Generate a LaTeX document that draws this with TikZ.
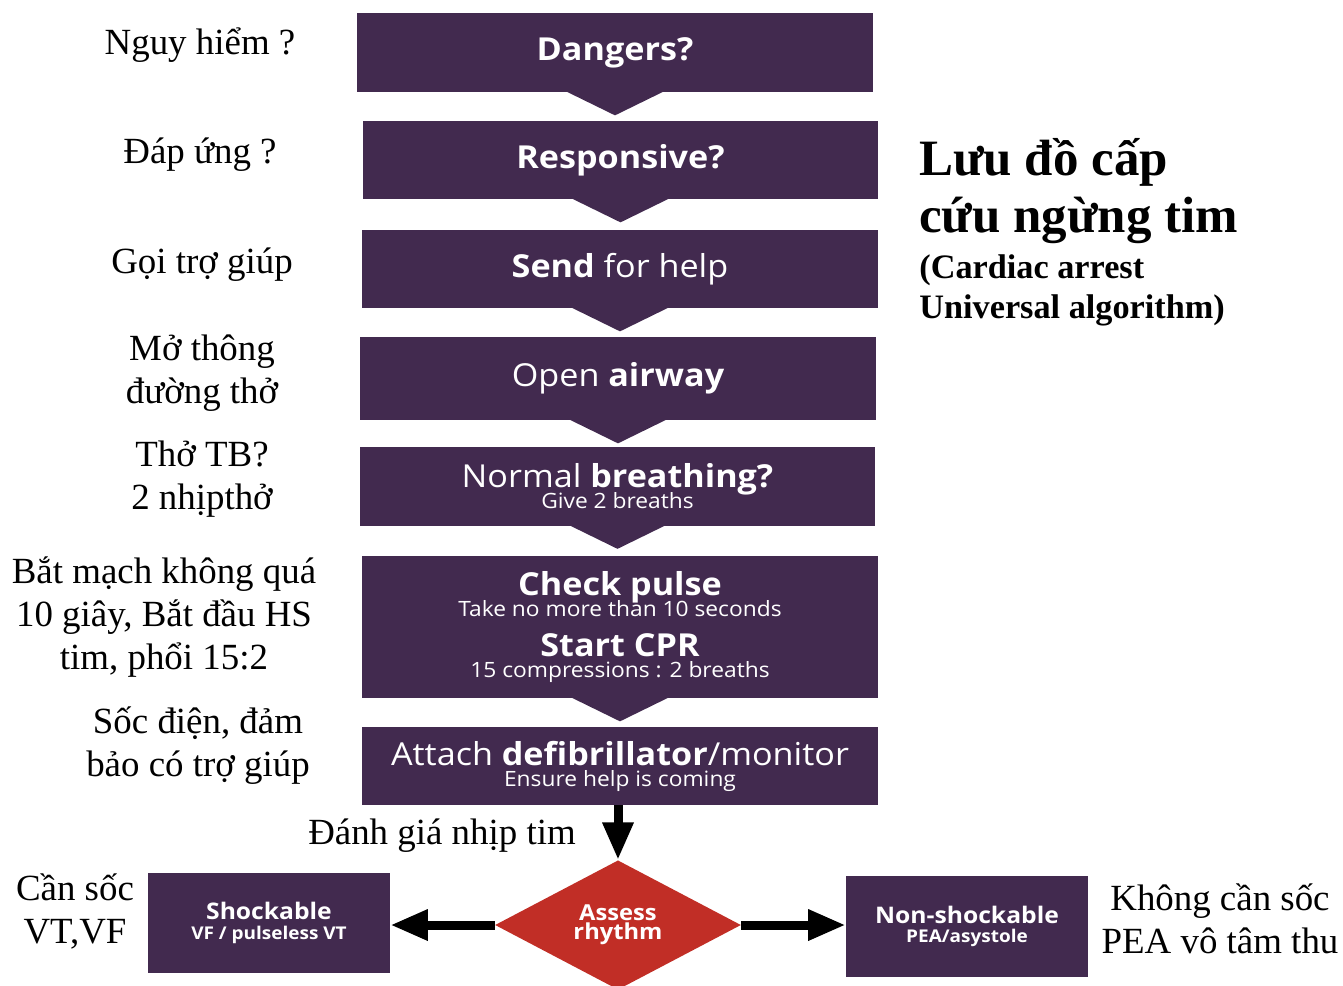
\documentclass[tikz,border=0pt]{standalone}
\usepackage{fontspec}
\setmainfont{Liberation Serif}
\newfontfamily\boxfont[FakeStretch=1.08]{Open Sans}
\usetikzlibrary{arrows.meta}
\usetikzlibrary{shapes.geometric}
\definecolor{boxpurple}{RGB}{66,42,79}
\definecolor{rhythmred}{RGB}{193,46,38}
\newcommand{\subline}{\fontsize{12}{12}\selectfont}
\tikzset{
    stepbox/.style={
        fill=boxpurple, text=white, inner sep=0pt,
        minimum width=10.32cm, minimum height=1.56cm, align=center,
        font={\boxfont\fontsize{18}{12}\selectfont\lineskiplimit=-50pt}
    },
    endbox/.style={
        fill=boxpurple, text=white, inner sep=0pt,
        minimum width=4.84cm, minimum height=2cm, align=center,
        font={\boxfont\bfseries\fontsize{13}{11}\selectfont\lineskiplimit=-50pt}
    },
    note/.style={
        align=center, inner sep=0pt,
        font=\fontsize{21}{24.5}\selectfont
    },
    bigarrow/.style={
        line width=0.18cm, -{Triangle[length=0.75cm, width=0.58cm]}
    }
}

\begin{document}
\begin{tikzpicture}[ x=0.02cm, y=-0.02cm ]

    \useasboundingbox (0,0) rectangle (1343,985);

    \def\notchw{48}
    \def\notchd{23}

    % main column
    \node[ stepbox, minimum height=1.58cm ] (dang) at (615,52.5) {\bfseries Dangers?};
    \node[ stepbox ] (resp) at (620.5,160) {\bfseries Responsive?};
    \node[ stepbox ] (help) at (620,269) {\textbf{Send} for help};
    \node[ stepbox, minimum height=1.66cm ] (airw) at (618,378.5) {Open \textbf{airway}};
    \node[ stepbox, minimum height=1.58cm ] (breath) at (617.5,486) {Normal \textbf{breathing?}\\{\subline Give 2 breaths}};
    \node[ stepbox, minimum height=2.84cm ] (cpr) at (620,627) {\textbf{Check pulse}\\{\subline Take no more than 10 seconds}\\[11pt]\textbf{Start CPR}\\{\subline 15 compressions : 2 breaths}};
    \node[ stepbox ] (defib) at (620,766) {Attach \textbf{defibrillator}/monitor\\{\subline Ensure help is coming}};

    \foreach \b in {dang,resp,help,airw,breath,cpr}
        \fill[ boxpurple ] (\b.south) ++(-\notchw,-0.5) -- ++(2*\notchw,0) -- ++(-\notchw,\notchd+0.5) -- cycle;

    % rhythm check
    \node[ diamond, fill=rhythmred, text=white, inner sep=0pt, minimum width=4.92cm, minimum height=2.4cm, align=center,
        font={\boxfont\bfseries\fontsize{12.5}{11}\selectfont\lineskiplimit=-50pt} ] (assess) at (618,925) {Assess\\rhythm};
    \node[ endbox ] (shock) at (269,923) {Shockable\\{\fontsize{10}{11}\selectfont VF / pulseless VT}};
    \node[ endbox, minimum height=2.02cm ] (nonshock) at (967,926.5) {Non-shockable\\{\fontsize{10}{11}\selectfont PEA/asystole}};

    \draw[ bigarrow ] (assess.north |- defib.south) -- (assess.north);
    \draw[ bigarrow ] (assess.west) -- (assess.west -| shock.east);
    \draw[ bigarrow ] (assess.east) -- (assess.east -| nonshock.west);

    % Vietnamese notes
    \node[ note ] (lDang) at (200,45) {Nguy hiểm ?};
    \node[ note ] (lResp) at (200,155) {Đáp ứng ?};
    \node[ note ] (lHelp) at (202,265) {Gọi trợ giúp};
    \node[ note ] (lAirw) at (202,373) {Mở thông\\đường thở};
    \node[ note ] (lBreath) at (202,479) {Thở TB?\\2 nhịpthở};
    \node[ note ] (lCpr) at (164,617) {Bắt mạch không quá\\10 giây, Bắt đầu HS\\tim, phổi 15:2};
    \node[ note ] (lDefib) at (198,746) {Sốc điện, đảm\\bảo có trợ giúp};
    \node[ note ] (lRhythm) at (442,836) {Đánh giá nhịp tim};
    \node[ note ] (lShock) at (75,911) {Cần sốc\\VT,VF};
    \node[ note ] (lNon) at (1220,919) {Không cần sốc\\PEA vô tâm thu};

    \node[ anchor=north west, align=left, inner sep=0pt, font={\bfseries\fontsize{29}{32.3}\selectfont} ] (title) at (919,138) {Lưu đồ cấp\\cứu ngừng tim};
    \node[ anchor=north west, align=left, inner sep=0pt, font={\bfseries\fontsize{19.5}{23.2}\selectfont} ] (subtitle) at (919,254) {(Cardiac arrest\\Universal algorithm)};

\end{tikzpicture}
\end{document}
